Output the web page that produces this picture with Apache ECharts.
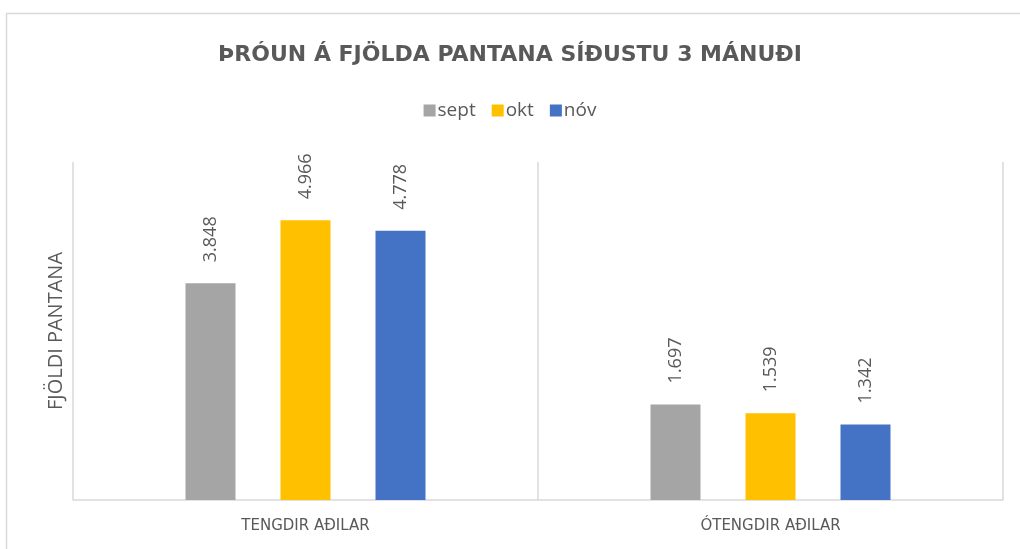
<!DOCTYPE html>
<html>
<head>
<meta charset="utf-8">
<script src="https://cdn.jsdelivr.net/npm/echarts@6/dist/echarts.min.js"></script>
<style>
html, body { margin: 0; padding: 0; background: #fff; }
#main { width: 1020px; height: 549px; }
</style>
</head>
<body>
<div id="main"></div>
<script>
var categories = ['TENGDIR AÐILAR', 'ÓTENGDIR AÐILAR'];
var months = ['sept', 'okt', 'nóv'];
var sept = [3848, 1697];
var okt = [4966, 1539];
var nov = [4778, 1342];
var colors = ['#A5A5A5', '#FFC000', '#4472C4'];

var txt = '#595959';
var font = '"Open Sans", "Noto Sans", sans-serif';

// 3848 -> 3.848 (íslenskur þúsundaskiltákn)
function fmt(v) {
    return String(v).replace(/\B(?=(\d{3})+(?!\d))/g, '.');
}

function bar(name, values, color) {
    return {
        name: name,
        type: 'bar',
        data: values,
        barWidth: 50,
        barGap: '90%',
        itemStyle: { color: color },
        label: {
            show: true,
            position: 'top',
            distance: 21,
            rotate: 90,
            align: 'left',
            verticalAlign: 'middle',
            color: txt,
            fontFamily: font,
            fontSize: 18,
            formatter: function (p) { return fmt(p.value); }
        }
    };
}

var myChart = echarts.init(document.getElementById('main'));
var option = {
    animation: false,
    backgroundColor: '#fff',
    title: {
        text: 'ÞRÓUN Á FJÖLDA PANTANA SÍÐUSTU 3 MÁNUÐI',
        left: 'center',
        top: 39,
        textStyle: {
            color: txt,
            fontFamily: '"DejaVu Sans", sans-serif',
            fontWeight: 'bold',
            fontSize: 22
        }
    },
    legend: {
        data: months,
        top: 96,
        left: 'center',
        icon: 'rect',
        itemWidth: 12,
        itemHeight: 12,
        itemGap: 16,
        textStyle: { color: txt, fontFamily: font, fontSize: 19, padding: [0, 0, 0, -3] }
    },
    graphic: [{
        type: 'rect',
        left: 4,
        top: 11,
        shape: { width: 1040, height: 560 },
        style: { fill: 'none', stroke: '#d9d9d9', lineWidth: 1.5 },
        silent: true
    }],
    grid: { left: 73, right: 17, top: 162, bottom: 49 },
    xAxis: {
        type: 'category',
        data: categories,
        axisLine: { lineStyle: { color: '#d9d9d9', width: 1.5 } },
        axisTick: { show: false },
        splitLine: { show: true, lineStyle: { color: '#d9d9d9', width: 1.5 } },
        axisLabel: {
            color: txt,
            fontFamily: '"DejaVu Sans", sans-serif',
            fontSize: 15,
            margin: 19
        }
    },
    yAxis: {
        type: 'value',
        min: 0,
        max: 6000,
        interval: 1000,
        name: 'FJÖLDI PANTANA',
        nameLocation: 'middle',
        nameGap: 7,
        nameTextStyle: { color: txt, fontFamily: font, fontSize: 20 },
        axisLine: { show: false },
        axisTick: { show: false },
        axisLabel: { show: false },
        splitLine: { show: false }
    },
    series: [
        bar(months[0], sept, colors[0]),
        bar(months[1], okt, colors[1]),
        bar(months[2], nov, colors[2])
    ]
};

myChart.setOption(option);
</script>
</body>
</html>
